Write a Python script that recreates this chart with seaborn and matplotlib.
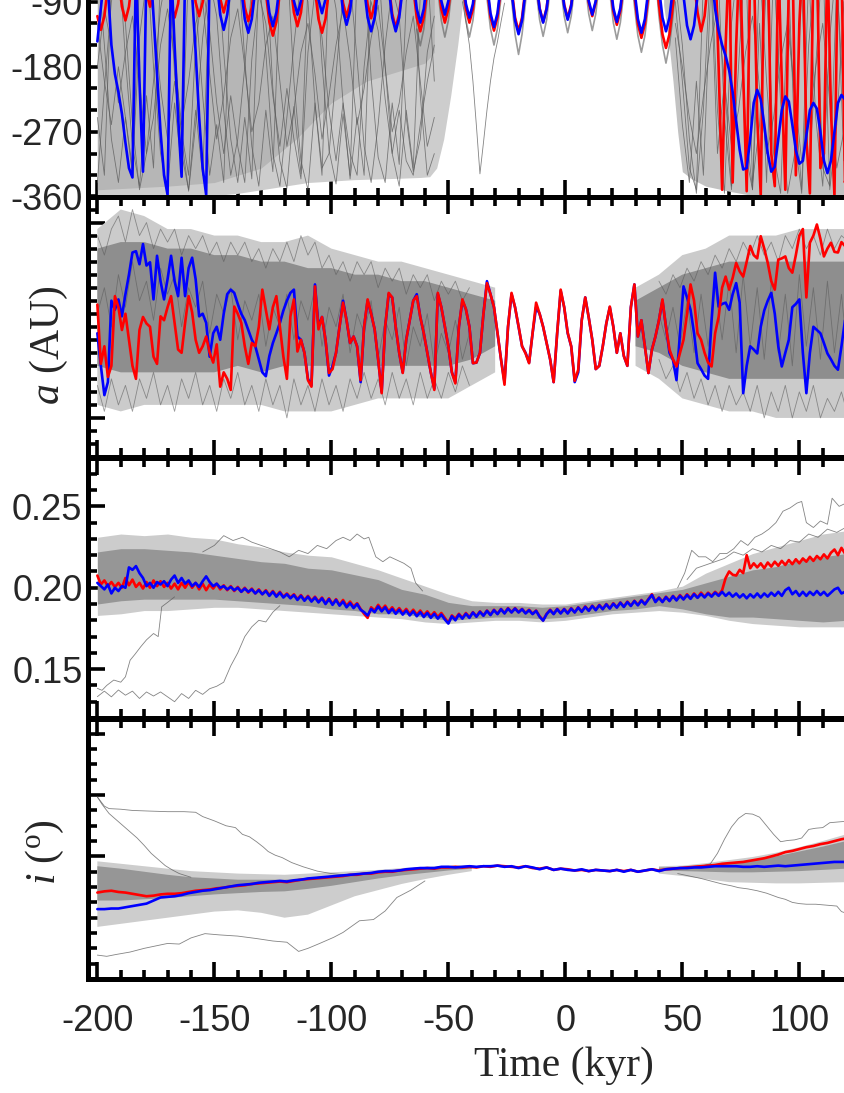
import numpy as np
import matplotlib
matplotlib.use('Agg')
import matplotlib.pyplot as plt
import seaborn as sns
from matplotlib.ticker import MultipleLocator, FormatStrFormatter, FuncFormatter

sns.set_theme(style='ticks')
plt.rcParams['font.family'] = ['Liberation Sans', 'DejaVu Sans']
plt.rcParams['axes.unicode_minus'] = False
plt.rcParams['mathtext.fontset'] = 'custom'
plt.rcParams['mathtext.rm'] = 'Liberation Serif'
plt.rcParams['mathtext.it'] = 'Liberation Serif:italic'

# time grids (kyr)
t_fine = np.arange(-200, 121.5, 1.5)     # 215 samples, one row = 10.5 kyr
t_coarse = np.arange(-200, 122, 3)       # 108 samples
t_env = np.arange(-200, 121, 10)         # 33 samples for the clone envelopes
nan = np.nan
GAP = [nan] * 26                         # t_coarse samples -38 .. 37, hidden under the orbits

# ---------------- panel 1: resonant angle (deg) ----------------
angle_red = [
    -110, -129, -110, -68, -32, -30, -56,
    -97, -116, -97, -56, -30, -28, -37,
    -78, -97, -78, -37, -20, -22, -52,
    -93, -112, -93, -52, -28, -28, -50,
    -91, -110, -91, -50, -28, -26, -45,
    -86, -105, -86, -45, -26, -30, -57,
    -98, -117, -98, -57, -32, -34, -77,
    -118, -137, -118, -77, -40, -36, -64,
    -105, -124, -105, -64, -34, -36, -73,
    -114, -133, -114, -73, -38, -32, -51,
    -92, -111, -92, -51, -28, -28, -53,
    -94, -113, -94, -53, -30, -32, -66,
    -107, -126, -107, -66, -36, -36, -71,
    -112, -131, -112, -71, -38, -34, -59,
    -100, -119, -100, -59, -32, -32, -59,
    -100, -119, -100, -59, -32, -34, -70,
    -111, -130, -111, -70, -38, -38, -71,
    -112, -131, -112, -71, -38, -34, -58,
    -99, -118, -99, -58, -32, -30, -53,
    -94, -113, -94, -53, -30, -28, -50,
    -91, -110, -91, -50, -28, -30, -62,
    -103, -122, -103, -62, -34, -38, -80,
    -121, -140, -121, -80, -42, -44, -94,
    -135, -154, -135, -94, -50, -40, -60,
    -40, -35, -62, -105, -131, -110, -60,
    -25, -20, -180, -350, -150, -20, -340,
    -150, -20, -190, -352, -40, -30, -250,
    -358, -20, -10, -300, -345, -30, -200,
    -350, -60, -5, -330, -120, -20, -280,
    -355, -40, -10, -320, -300, -25, -240,
    -358, -20, -30, -340, -90,
]
angle_blue = [
    -145, -100, -50, -70, -150, -190, -215,
    -245, -285, -320, -333, -40, -200, -325,
    -40, -30, -110, -190, -270, -330, -357,
    -40, -150, -250, -332, -50, -20, -80,
    -160, -250, -320, -357, -40, -30, -60,
    -108, -129, -108, -68, -34, -34, -73,
    -114, -133, -114, -73, -36, -34, -64,
    -105, -124, -105, -64, -34, -32, -48,
    -89, -108, -89, -48, -26, -26, -46,
    -87, -106, -87, -46, -26, -30, -62,
    -103, -122, -103, -62, -34, -36, -71,
    -112, -131, -112, -71, -38, -38, -71,
    -112, -131, -112, -71, -38, -34, -59,
    -100, -119, -100, -59, -32, -28, -48,
    -89, -108, -89, -48, -26, -28, -52,
    -93, -112, -93, -52, -30, -32, -65,
    -106, -125, -106, -65, -36, -38, -75,
    -116, -135, -116, -75, -40, -34, -59,
    -100, -119, -100, -59, -32, -30, -55,
    -96, -115, -96, -55, -30, -28, -48,
    -89, -108, -89, -48, -26, -30, -58,
    -99, -118, -99, -58, -32, -36, -73,
    -114, -133, -114, -73, -38, -38, -71,
    -112, -131, -112, -71, -38, -40, -82,
    -123, -142, -123, -82, -44, -30, -35,
    -50, -100, -130, -150, -165, -185, -215,
    -255, -295, -322, -320, -280, -230, -212,
    -225, -260, -300, -325, -318, -280, -240,
    -221, -228, -260, -295, -314, -310, -275,
    -240, -230, -238, -270, -310, -327, -310,
    -270, -230, -219, -225, -245,
]
# circulating clones, early part and late part
clone_t_early = np.arange(-200, -55, 3)
clone_early = [
    [-30, -150, -280, -340, -250, -330, -60, -20, -180, -300, -350, -230, -320, -40, -90, -220, -330,
     -260, -340, -50, -30, -170, -290, -345, -240, -325, -70, -25, -200, -310, -350, -230, -330,
     -45, -100, -230, -335, -250, -330, -60, -30, -180, -300, -345, -240, -320, -80, -40, -200],
    [-250, -330, -60, -20, -170, -290, -345, -220, -320, -50, -30, -190, -300, -350, -240, -330, -70,
     -25, -160, -280, -340, -250, -335, -55, -35, -210, -310, -348, -235, -328, -65, -20, -175,
     -295, -342, -245, -330, -50, -40, -195, -305, -340, -230, -315, -90, -30, -220, -330, -300],
    [-120, -200, -260, -180, -250, -320, -140, -60, -110, -210, -280, -200, -270, -330, -150, -70, -130,
     -230, -300, -220, -290, -340, -170, -80, -120, -220, -290, -210, -280, -335, -160, -75, -140,
     -240, -310, -230, -300, -330, -180, -90, -130, -225, -300, -240, -310, -330, -260, -200, -150],
    [-340, -210, -90, -40, -120, -260, -350, -300, -200, -100, -45, -150, -280, -352, -260, -140, -60,
     -110, -240, -330, -280, -180, -70, -50, -160, -300, -345, -250, -150, -60, -90, -230, -320,
     -300, -190, -80, -60, -170, -290, -340, -260, -150, -70, -110, -250, -325, -280, -160, -110],
    [-180, -100, -150, -230, -160, -110, -200, -300, -250, -150, -100, -170, -260, -200, -120, -90, -190,
     -280, -220, -140, -100, -180, -270, -230, -150, -110, -200, -290, -240, -160, -120, -190, -280,
     -220, -150, -100, -170, -260, -210, -140, -95, -180, -270, -230, -160, -110, -200, -290, -250],
]
clone_t_late = np.arange(47, 123, 3)
clone_late = [
    [-90, -200, -320, -350, -60, -20, -240, -355, -120, -30, -300, -350, -40, -200, -340, -80, -25,
     -280, -355, -150, -40, -320, -345, -60, -230, -350],
    [-140, -260, -340, -200, -330, -80, -30, -250, -350, -180, -20, -340, -260, -60, -300, -355, -100,
     -220, -350, -50, -250, -345, -140, -30, -310, -200],
    [-60, -150, -280, -355, -240, -40, -300, -200, -345, -70, -260, -350, -120, -340, -40, -230, -355,
     -300, -70, -330, -180, -20, -350, -260, -90, -330],
    [-120, -180, -250, -300, -220, -150, -100, -200, -290, -240, -160, -110, -210, -300, -250, -170, -120,
     -220, -310, -260, -180, -120, -230, -320, -270, -190],
]
# librating clones in the middle (slightly deeper dips than the red orbit)
clone_t_mid = np.arange(-63.5, 51, 1.5)
clone_mid = [
    -128, -151, -128, -85, -45, -40, -74,
    -116, -139, -116, -74, -42, -40, -74,
    -116, -139, -116, -74, -42, -44, -85,
    -127, -150, -127, -85, -46, -44, -86,
    -135, -163, -135, -90, -48, -40, -73,
    -115, -138, -115, -73, -40, -38, -68,
    -110, -133, -110, -68, -38, -36, -65,
    -107, -130, -107, -65, -36, -40, -77,
    -119, -142, -119, -77, -42, -46, -95,
    -137, -160, -137, -95, -50, -52, -110,
    -150, -175, -150, -110, -55, -40, -80,
]
clone_t_v = [-44, -42.5, -41, -39.5, -38, -36.5, -35, -33.5, -32, -30.5, -29, -27.5, -26]
clone_v = [-90, -118, -150, -200, -262, -328, -285, -240, -200, -168, -145, -118, -92]
# extent of the circulating cloud (whole cloud and its denser upper part)
cloud_t_early = [-200, -190, -180, -170, -160, -150, -140, -130, -120, -110, -100, -90, -80, -70, -62, -58,
                 -55, -52, -49, -46, -44]
cloud_lo_early = [-360, -360, -360, -360, -360, -358, -355, -350, -345, -340, -338, -336, -335, -334, -333, -332,
                  -320, -280, -220, -150, -95]
dense_t_early = [-200, -170, -150, -130, -115, -100, -85, -70, -60, -56]
dense_lo_early = [-350, -345, -340, -320, -280, -230, -200, -185, -175, -160]
cloud_t_late = [42, 44, 46, 48, 50, 54, 60, 70, 80, 90, 100, 110, 122]
cloud_lo_late = [-95, -140, -200, -270, -325, -335, -345, -352, -358, -360, -360, -360, -360]

# ---------------- panel 2: semi-major axis, offset from 1 AU in 1e-4 AU ----------------
a_red = [
    -2.6, -11.7, -9, -13.7, -12, -1.3, -3,
    -6.5, -4, -8, -12, -14, -6.5, -4.5,
    -5.5, -6, -10.6, -11.7, -4.4, -5, -3,
    -1.3, -5.4, -9.5, -10, -5.4, -1.3, -3.8,
    -8, -10, -9, -7.5, -10, -11.5, -8.7,
    -15.2, -13, -14, -15.7, -2.9, -4, -5.4,
    -9, -11.7, -8.5, -9, -6, -0.3, -3.4,
    -6.4, -3, -1.3, -6, -10.6, -14, -4.4,
    -1.8, -9.8, -8, -10, -14.2, -15.2, 0.2,
    -6.4, -4.5, -8, -13.1, -12.5, -10, -6,
    -2.3, -5, -8.5, -7.5, -9, -14.2, -6,
    -1.8, -4, -6.4, -11, -16.2, -6, -0.8,
    -1.5, -6, -10, -13.1, -8, -5, -2,
    -1.3, -4.5, -7, -10, -13, -15.7, -0.8,
    -3, -5.9, -9, -13, -14.7, -6, -1.8,
    -3.3, -6, -11.6, -11.5, -10, -4, 0.7,
    -1, -3, -6.9, -11, -14.9, -6, -0.8,
    -3, -5.9, -9, -10.1, -11.6, -7, -2.3,
    -4, -6, -8.5, -11, -14.5, -7, -0.3,
    -3, -6.9, -9, -14.3, -12.6, -5, -1.5,
    -4.6, -8, -12.5, -12, -9, -5.5, -2.9,
    -6, -10, -7, -10.5, -12, -3, 0.5,
    -7.5, -5, -9, -13.1, -9.5, -7.5, -5,
    -1.8, -6, -9.5, -11, -12.1, -10, -8,
    -4, 0.5, -2, -7, -8, -10, -11.5,
    -12.1, -7, -4.5, 0, 1.7, -0.3, 1.5,
    3.8, 2.5, 1.7, 4, 6.4, 5, 4.5,
    7.9, 6, 3.8, 1, -0.3, 4.3, 4.5,
    4.8, 3, 2.3, 5, 8, 9, -1.5,
    6.9, 8, 9.7, 7.5, 4.8, 6, 6.9,
    5.5, 5.4, 7, 6.4, 6,
]
a_blue = [
    -7, -12, -16.5, -14.5, -2, -3.4, -1.8,
    -4.4, -1, 2, 5.4, 5.6, 3.6, 6.7,
    3.4, 3.9, -1.8, 4.9, 1, -1.8, 1.3,
    4.9, 1, -1.3, 4.6, -1.3, 3, 4.6,
    1.3, -4.4, -4, -5.4, -10.6, -7, -6,
    -8, -4, -1, -0.3, -0.8, -2.5, -4,
    -5, -6.5, -8, -9, -11, -13, -13.6,
    -10.5, -8.5, -7, -5.4, -3.5, -2, -0.8,
    -0.3, -7.5, -8, -10, -14, -15, 0.5,
    -6, -4.5, -8, -13.5, -12, -10, -6,
    -2, -5, -8.5, -7.5, -9, -14.5, -6,
    -2, -4, -6.4, -11, -16, -6, -1,
    -1.5, -6, -10, -13, -8, -5, -2,
    -1, -4.5, -7, -10, -13, -15.5, -1,
    -3, -6, -9, -13, -14.5, -6, -2,
    -3.3, -6, -11.6, -11.5, -10, -4, 1,
    -1, -3, -7, -11, -14.5, -6, -1,
    -3, -6, -9, -10, -11.5, -7, -3,
    -4, -6, -8.5, -11, -14.5, -7, -0.5,
    -3, -7, -9, -14.5, -13, -5, -1.5,
    -4.6, -8, -12.5, -12, -9, -5.5, -3,
    -6, -10, -7, -10.5, -12, -3, 0.5,
    -7.5, -5, -9, -13.1, -9.5, -7.5, -5,
    -2, -6, -10, -11.1, -14.2, -7, 0.2,
    -1.5, -3.4, -7, -11.6, -12.5, -13.5, -14,
    -5, 2.3, -2.9, -2.5, -2.3, -3.4, -1,
    0.7, -2.3, -16.2, -12, -9, -9.5, -10.1,
    -6, -3.5, -2, -0.8, -4, -9, -12.1,
    -10, -8, -3, -2.5, -1.8, -10, -16.2,
    -10, -6, -6.5, -7, -8.5, -10.1, -11,
    -12, -12.6, -9, -5, -3.9,
]
a_out_top = [9, 12, 11, 9, 9, 8, 8, 7, 7, 8, 6, 5, 4, 4, 3, 2, 1,
             0, nan, nan, nan, nan, nan, 0, 2, 5, 6, 8, 8, 8, 9, 9, 9]
a_in_top = [6, 7, 7, 6, 6, 5, 5, 4, 4, 3, 3, 2, 2, 1, 1, 0, -1,
            -2, nan, nan, nan, nan, nan, -2, 0, 2, 3, 4, 4, 4, 4, 4, 4]
a_in_bot = [-12, -13, -13, -13, -13, -13, -12, -13, -12, -12, -12, -12, -12, -12, -12, -12, -11,
            -9, nan, nan, nan, nan, nan, -9, -10, -12, -13, -14, -14, -14, -14, -14, -14]
a_out_bot = [-18, -19, -18, -18, -18, -18, -18, -18, -19, -19, -19, -18, -17, -17, -17, -17, -15,
             -13, nan, nan, nan, nan, nan, -12, -14, -17, -18, -19, -19, -20, -20, -20, -20]
# ragged clones along the edges and the middle of the cloud (t_coarse grid)
a_edge_top = ([8, 5, 9, 11, 7, 12, 8, 10, 6, 9, 7, 9, 5, 8, 6, 8, 5, 7, 4, 7, 5, 7, 4, 6, 3, 6, 4,
               7, 4, 8, 5, 7, 3, 5, 2, 4, 1, 4, 2, 4, 0, 3, 1, 3, -1, 2, 0, 2, -2, 1, -1, 1, -2, 0]
              + GAP +
              [1, -1, 2, 0, 3, 1, 4, 2, 5, 3, 6, 4, 7, 5, 8, 5, 7, 4, 8, 6, 9, 6, 8, 5, 9, 6, 8, 7])
a_edge_bot = ([-15, -19, -14, -18, -15, -19, -14, -17, -13, -18, -15, -19, -14, -17, -13, -18, -15, -19,
               -14, -17, -13, -18, -15, -19, -14, -18, -15, -20, -14, -18, -15, -19, -14, -18, -15, -19,
               -14, -17, -13, -17, -14, -18, -13, -17, -14, -18, -13, -17, -14, -17, -13, -16, -12, -15]
              + GAP +
              [-11, -14, -12, -16, -13, -17, -14, -18, -15, -19, -15, -18, -16, -19, -15, -20, -16, -19,
               -15, -20, -16, -19, -15, -20, -17, -19, -16, -20])
a_edge_mid = ([-4, 0, -6, 2, -3, 4, -2, 1, -5, 3, -1, 2, -6, 0, -3, 1, -7, -1, -4, 0, -8, -2, -5, -1,
               -9, -3, -6, -1, -8, -2, -5, 0, -9, -3, -6, -1, -10, -4, -7, -2, -11, -5, -8, -3, -12, -6,
               -9, -4, -12, -7, -10, -5, -11, -7]
              + GAP +
              [-4, -8, -3, -9, -2, -10, -1, -9, 0, -8, 1, -10, 2, -9, 0, -11, 1, -10, -1, -12, 2, -9,
               0, -11, 1, -10, -1, -12])

# ---------------- panel 3: eccentricity ----------------
e_red = [
    0.2075, 0.2020, 0.2045, 0.2010, 0.2035, 0.2005, 0.2030,
    0.2000, 0.2060, 0.2015, 0.2050, 0.2005, 0.2030, 0.1995,
    0.2035, 0.2000, 0.2045, 0.2010, 0.2040, 0.2005, 0.2030,
    0.1995, 0.2025, 0.1990, 0.2030, 0.2000, 0.2035, 0.2000,
    0.2030, 0.1990, 0.2025, 0.1985, 0.2020, 0.1995, 0.2025,
    0.1990, 0.2015, 0.1985, 0.2010, 0.1980, 0.2005, 0.1975,
    0.2000, 0.1970, 0.1995, 0.1965, 0.1990, 0.1960, 0.1985,
    0.1955, 0.1980, 0.1950, 0.1975, 0.1945, 0.1965, 0.1940,
    0.1960, 0.1930, 0.1955, 0.1925, 0.1950, 0.1920, 0.1945,
    0.1915, 0.1940, 0.1905, 0.1935, 0.1900, 0.1930, 0.1895,
    0.1925, 0.1890, 0.1915, 0.1885, 0.1905, 0.1870, 0.1840,
    0.1815, 0.1880, 0.1860, 0.1895, 0.1865, 0.1890, 0.1855,
    0.1880, 0.1850, 0.1875, 0.1845, 0.1870, 0.1840, 0.1865,
    0.1835, 0.1860, 0.1830, 0.1855, 0.1825, 0.1850, 0.1820,
    0.1845, 0.1815, 0.1785, 0.1830, 0.1810, 0.1840, 0.1815,
    0.1845, 0.1820, 0.1850, 0.1825, 0.1855, 0.1830, 0.1860,
    0.1835, 0.1865, 0.1840, 0.1870, 0.1845, 0.1875, 0.1850,
    0.1875, 0.1850, 0.1870, 0.1845, 0.1865, 0.1840, 0.1860,
    0.1825, 0.1800, 0.1840, 0.1865, 0.1840, 0.1870, 0.1845,
    0.1870, 0.1845, 0.1875, 0.1850, 0.1880, 0.1855, 0.1885,
    0.1860, 0.1890, 0.1865, 0.1895, 0.1870, 0.1900, 0.1875,
    0.1905, 0.1880, 0.1910, 0.1885, 0.1915, 0.1890, 0.1920,
    0.1895, 0.1925, 0.1900, 0.1930, 0.1960, 0.1915, 0.1940,
    0.1915, 0.1945, 0.1920, 0.1950, 0.1925, 0.1955, 0.1930,
    0.1960, 0.1935, 0.1965, 0.1940, 0.1970, 0.1945, 0.1970,
    0.1950, 0.1975, 0.1955, 0.1985, 0.2060, 0.2100, 0.2080,
    0.2075, 0.2110, 0.2090, 0.2200, 0.2120, 0.2150, 0.2125,
    0.2150, 0.2120, 0.2155, 0.2130, 0.2160, 0.2135, 0.2165,
    0.2140, 0.2170, 0.2145, 0.2175, 0.2150, 0.2180, 0.2160,
    0.2190, 0.2165, 0.2195, 0.2175, 0.2205, 0.2180, 0.2215,
    0.2235, 0.2200, 0.2245, 0.2210, 0.2230,
]
e_blue = [
    0.2030, 0.2010, 0.1990, 0.2020, 0.1965, 0.2000, 0.1980,
    0.2010, 0.2000, 0.2125, 0.2110, 0.2133, 0.2090, 0.2060,
    0.2010, 0.2030, 0.2000, 0.2035, 0.2020, 0.2040, 0.2010,
    0.2050, 0.2075, 0.2030, 0.2060, 0.2025, 0.2045, 0.2010,
    0.2030, 0.2005, 0.2040, 0.2070, 0.2035, 0.2010, 0.2025,
    0.2000, 0.2010, 0.1990, 0.2005, 0.1985, 0.2000, 0.1975,
    0.1995, 0.1975, 0.1990, 0.1965, 0.1985, 0.1960, 0.1980,
    0.1950, 0.1975, 0.1945, 0.1970, 0.1940, 0.1960, 0.1935,
    0.1955, 0.1925, 0.1950, 0.1920, 0.1945, 0.1915, 0.1940,
    0.1910, 0.1935, 0.1900, 0.1930, 0.1895, 0.1925, 0.1890,
    0.1915, 0.1880, 0.1905, 0.1875, 0.1900, 0.1865, 0.1850,
    0.1830, 0.1870, 0.1850, 0.1885, 0.1855, 0.1880, 0.1845,
    0.1870, 0.1840, 0.1865, 0.1835, 0.1860, 0.1830, 0.1855,
    0.1825, 0.1850, 0.1820, 0.1845, 0.1815, 0.1840, 0.1810,
    0.1835, 0.1805, 0.1780, 0.1825, 0.1800, 0.1835, 0.1810,
    0.1840, 0.1815, 0.1848, 0.1822, 0.1852, 0.1828, 0.1858,
    0.1832, 0.1862, 0.1838, 0.1868, 0.1842, 0.1872, 0.1848,
    0.1872, 0.1848, 0.1868, 0.1842, 0.1862, 0.1838, 0.1858,
    0.1822, 0.1798, 0.1838, 0.1862, 0.1838, 0.1868, 0.1842,
    0.1868, 0.1842, 0.1872, 0.1848, 0.1878, 0.1852, 0.1882,
    0.1858, 0.1888, 0.1862, 0.1892, 0.1868, 0.1898, 0.1872,
    0.1902, 0.1878, 0.1908, 0.1882, 0.1912, 0.1888, 0.1918,
    0.1892, 0.1922, 0.1898, 0.1928, 0.1955, 0.1912, 0.1938,
    0.1912, 0.1942, 0.1918, 0.1948, 0.1922, 0.1950, 0.1928,
    0.1955, 0.1932, 0.1960, 0.1938, 0.1962, 0.1940, 0.1965,
    0.1945, 0.1970, 0.1950, 0.1975, 0.1950, 0.1970, 0.1945,
    0.1965, 0.1940, 0.1960, 0.1935, 0.1960, 0.1940, 0.1965,
    0.1940, 0.1965, 0.1945, 0.1970, 0.1950, 0.1975, 0.1950,
    0.1985, 0.2000, 0.1960, 0.1980, 0.1950, 0.1975, 0.1950,
    0.1975, 0.1955, 0.1980, 0.1955, 0.1975, 0.1950, 0.1970,
    0.1990, 0.2000, 0.1965, 0.1975, 0.1955,
]
e_out_top = [0.231, 0.233, 0.232, 0.233, 0.231, 0.230, 0.227, 0.225, 0.222, 0.220, 0.219, 0.215, 0.211,
             0.206, 0.201, 0.196, 0.192, 0.191, 0.191, 0.190, 0.190, 0.192, 0.194, 0.196, 0.198, 0.201,
             0.209, 0.215, 0.221, 0.225, 0.229, 0.233, 0.235]
e_in_top = [0.222, 0.224, 0.224, 0.223, 0.222, 0.220, 0.218, 0.216, 0.215, 0.212, 0.211, 0.208, 0.205,
            0.199, 0.196, 0.191, 0.189, 0.189, 0.189, 0.188, 0.189, 0.191, 0.193, 0.195, 0.197, 0.199,
            0.203, 0.207, 0.211, 0.213, 0.217, 0.219, 0.221]
e_in_bot = [0.190, 0.192, 0.193, 0.193, 0.193, 0.193, 0.192, 0.191, 0.190, 0.189, 0.187, 0.186, 0.184,
            0.184, 0.182, 0.180, 0.181, 0.182, 0.182, 0.181, 0.182, 0.184, 0.186, 0.187, 0.189, 0.187,
            0.184, 0.182, 0.182, 0.181, 0.180, 0.179, 0.180]
e_out_bot = [0.183, 0.184, 0.186, 0.186, 0.187, 0.188, 0.188, 0.187, 0.186, 0.185, 0.184, 0.183, 0.182,
             0.181, 0.179, 0.178, 0.179, 0.180, 0.180, 0.179, 0.180, 0.182, 0.184, 0.185, 0.186, 0.185,
             0.183, 0.180, 0.178, 0.177, 0.176, 0.176, 0.176]
# stray clones
e_stray = {
    'low_a': ([-200, -198, -196, -193, -190, -188, -186, -184, -181.5, -179, -176, -174, -172.5, -170, -167],
              [0.1382, 0.1370, 0.1400, 0.1433, 0.1420, 0.1453, 0.1555, 0.1590, 0.1637, 0.1680, 0.1719, 0.1700,
               0.1883, 0.1910, 0.1944]),
    'low_b': ([-200, -197, -194, -191, -188, -185, -182, -179, -176, -173, -170, -167, -164, -161, -158, -155,
               -152, -149, -146, -143, -140, -137, -134, -131, -128, -125, -122],
              [0.1331, 0.1365, 0.1330, 0.1372, 0.1340, 0.1365, 0.1320, 0.1360, 0.1335, 0.1360, 0.1330, 0.1300,
               0.1350, 0.1320, 0.1370, 0.1345, 0.1380, 0.1395, 0.1420, 0.1520, 0.1600, 0.1700, 0.1760, 0.1800,
               0.1790, 0.1850, 0.1890]),
    'high_left': ([-155, -150, -146, -142, -138, -134, -130, -126, -122, -118, -114, -110, -106, -102, -98, -95,
                   -92, -89, -86, -84, -81, -78, -75, -72, -69, -66, -64, -61],
                  [0.222, 0.226, 0.232, 0.229, 0.231, 0.228, 0.226, 0.224, 0.222, 0.219, 0.223, 0.221, 0.226,
                   0.224, 0.229, 0.231, 0.229, 0.233, 0.230, 0.231, 0.219, 0.216, 0.219, 0.217, 0.215, 0.212,
                   0.203, 0.198]),
    'high_right': ([48, 51, 54, 57, 60, 63, 66, 69, 72, 75, 78, 81, 84, 87, 90, 93, 96, 99, 101, 103, 106, 109,
                    112, 114, 117, 120, 121],
                   [0.200, 0.209, 0.223, 0.219, 0.219, 0.216, 0.221, 0.221, 0.224, 0.229, 0.226, 0.231, 0.233,
                    0.236, 0.240, 0.247, 0.249, 0.252, 0.253, 0.240, 0.237, 0.241, 0.239, 0.255, 0.250, 0.252,
                    0.251]),
    'mid_right': ([52, 56, 60, 64, 68, 72, 76, 80, 84, 88, 92, 96, 100, 104, 108, 112, 116, 121],
                  [0.205, 0.212, 0.214, 0.216, 0.218, 0.222, 0.220, 0.224, 0.222, 0.226, 0.224, 0.229, 0.228,
                   0.233, 0.231, 0.236, 0.234, 0.238]),
}

# ---------------- panel 4: inclination (deg) ----------------
i_red = [
    5.41, 5.43, 5.44, 5.42, 5.41, 5.39, 5.37, 5.35, 5.36,
    5.38, 5.39, 5.39, 5.40, 5.42, 5.44, 5.45, 5.46, 5.48,
    5.49, 5.51, 5.52, 5.53, 5.55, 5.56, 5.57, 5.58, 5.59,
    5.58, 5.60, 5.62, 5.63, 5.64, 5.65, 5.66, 5.67, 5.68,
    5.70, 5.70, 5.72, 5.72, 5.74, 5.75, 5.75, 5.77, 5.78,
    5.79, 5.80, 5.81, 5.80, 5.82, 5.82, 5.83, 5.82, 5.83,
    5.82, 5.84, 5.83, 5.85, 5.84, 5.83, 5.82, 5.84, 5.81,
    5.80, 5.82, 5.78, 5.80, 5.79, 5.77, 5.78, 5.76, 5.78,
    5.77, 5.76, 5.78, 5.76, 5.78, 5.75, 5.77, 5.79, 5.77,
    5.79, 5.80, 5.81, 5.82, 5.83, 5.84, 5.85, 5.86, 5.88,
    5.89, 5.90, 5.91, 5.93, 5.95, 5.97, 6.00, 6.03, 6.07,
    6.09, 6.12, 6.15, 6.17, 6.20, 6.22, 6.25, 6.28, 6.30,
]
i_blue = [
    5.14, 5.14, 5.15, 5.15, 5.17, 5.19, 5.21, 5.23, 5.28,
    5.33, 5.34, 5.35, 5.37, 5.40, 5.42, 5.44, 5.45, 5.47,
    5.49, 5.51, 5.53, 5.54, 5.55, 5.57, 5.58, 5.59, 5.60,
    5.59, 5.61, 5.62, 5.64, 5.65, 5.66, 5.67, 5.68, 5.69,
    5.70, 5.71, 5.72, 5.73, 5.75, 5.76, 5.76, 5.77, 5.79,
    5.80, 5.81, 5.81, 5.81, 5.83, 5.83, 5.82, 5.83, 5.84,
    5.83, 5.84, 5.84, 5.85, 5.83, 5.84, 5.81, 5.84, 5.82,
    5.79, 5.82, 5.78, 5.80, 5.78, 5.77, 5.79, 5.76, 5.78,
    5.77, 5.76, 5.78, 5.75, 5.78, 5.75, 5.77, 5.79, 5.76,
    5.79, 5.80, 5.81, 5.81, 5.82, 5.82, 5.83, 5.84, 5.84,
    5.84, 5.84, 5.83, 5.83, 5.84, 5.83, 5.84, 5.85, 5.84,
    5.85, 5.86, 5.87, 5.88, 5.89, 5.90, 5.91, 5.91, 5.91,
]
i_out_top = [5.92, 5.88, 5.84, 5.80, 5.76, 5.74, 5.72, 5.71, 5.70, 5.72, 5.74, 5.76, 5.78, 5.81, 5.83, 5.85,
             5.86, nan, nan, nan, nan, nan, nan, nan, 5.84, 5.85, 5.89, 5.94, 5.99, 6.06, 6.15, 6.25, 6.36]
i_in_top = [5.84, 5.80, 5.75, 5.70, 5.66, 5.64, 5.62, 5.62, 5.62, 5.65, 5.68, 5.71, 5.74, 5.77, 5.80, 5.82,
            5.84, nan, nan, nan, nan, nan, nan, nan, 5.82, 5.83, 5.86, 5.90, 5.94, 6.00, 6.08, 6.16, 6.25]
i_in_bot = [5.28, 5.28, 5.30, 5.32, 5.35, 5.38, 5.40, 5.42, 5.43, 5.47, 5.52, 5.58, 5.64, 5.69, 5.73, 5.77,
            5.80, nan, nan, nan, nan, nan, nan, nan, 5.77, 5.76, 5.75, 5.74, 5.74, 5.75, 5.76, 5.78, 5.80]
i_out_bot = [4.85, 4.90, 4.95, 5.00, 5.05, 5.10, 5.12, 5.08, 5.00, 5.05, 5.20, 5.35, 5.45, 5.55, 5.63, 5.70,
             5.76, nan, nan, nan, nan, nan, nan, nan, 5.72, 5.68, 5.63, 5.58, 5.57, 5.56, 5.56, 5.57, 5.58]
i_stray = {
    'top_flat': ([-200, -197, -195, -190, -185, -178, -170, -163, -158, -155, -150, -145, -141, -138, -135, -132,
                  -129, -127, -124, -121, -117, -112, -106, -100, -95],
                 [6.97, 6.82, 6.78, 6.77, 6.75, 6.74, 6.73, 6.73, 6.72, 6.65, 6.58, 6.50, 6.47, 6.36, 6.32, 6.24,
                  6.15, 6.08, 6.02, 5.98, 5.90, 5.83, 5.76, 5.72, 5.70]),
    'top_drop': ([-200, -198, -195, -192, -189, -186, -183, -180, -177, -174, -171, -168, -165, -160],
                 [6.97, 6.85, 6.70, 6.60, 6.50, 6.40, 6.30, 6.18, 6.05, 5.95, 5.85, 5.78, 5.72, 5.66]),
    'bottom': ([-200, -196, -192, -186, -180, -175, -170, -165, -160, -154, -148, -140, -132, -125, -119, -114,
                -110, -105, -99, -95, -88, -82, -77, -72, -66, -60],
               [4.39, 4.37, 4.40, 4.44, 4.50, 4.54, 4.58, 4.57, 4.67, 4.74, 4.72, 4.70, 4.66, 4.62, 4.60, 4.45,
                4.50, 4.58, 4.68, 4.76, 4.95, 4.97, 5.11, 5.33, 5.45, 5.60]),
    'peak': ([58, 62, 65, 68, 71, 74, 77, 80, 83, 86, 89, 92, 95, 98, 101, 104, 107, 110, 113, 116, 119, 121],
             [5.84, 5.88, 6.05, 6.28, 6.48, 6.62, 6.70, 6.69, 6.64, 6.50, 6.36, 6.24, 6.26, 6.27, 6.30, 6.44,
              6.46, 6.47, 6.55, 6.56, 6.57, 6.57]),
    'low_right': ([48, 53, 58, 62, 67, 71, 74, 78, 82, 86, 91, 94, 97, 100, 103, 107, 110, 113, 116, 118, 121],
                  [5.72, 5.68, 5.64, 5.60, 5.55, 5.52, 5.49, 5.47, 5.44, 5.40, 5.33, 5.30, 5.25, 5.23, 5.22, 5.22,
                   5.21, 5.20, 5.19, 5.10, 5.06]),
}

RED, BLUE = '#ff0000', '#0000ff'
CLONE = '#5a5a5a'


def orbit(ax, t, y, color, z):
    sns.lineplot(x=t, y=y, ax=ax, color=color, linewidth=1.9, estimator=None, sort=False,
                 legend=False, zorder=z)


def clone(ax, t, y, lw=0.6, alpha=0.75):
    ax.plot(t, y, color=CLONE, linewidth=lw, alpha=alpha, zorder=2)


def band(ax, lo_out, hi_out, lo_in, hi_in, c_out, c_in):
    ax.fill_between(t_env, lo_out, hi_out, color=c_out, linewidth=0, zorder=1)
    ax.fill_between(t_env, lo_in, hi_in, color=c_in, linewidth=0, zorder=1.5)


def style(ax, ylim, major, minor):
    ax.set_xlim(-204, 204)
    ax.set_ylim(*ylim)
    ax.xaxis.set_major_locator(MultipleLocator(50))
    ax.xaxis.set_minor_locator(MultipleLocator(10))
    ax.yaxis.set_major_locator(MultipleLocator(major))
    ax.yaxis.set_minor_locator(MultipleLocator(minor))
    ax.tick_params(which='both', direction='in', top=True, right=True, width=2.6, color='black')
    ax.tick_params(which='major', length=12)
    ax.tick_params(which='minor', length=6.5)
    ax.tick_params(axis='x', labelbottom=False, pad=18, labelsize=26)
    ax.tick_params(axis='y', pad=4, labelsize=26)
    for s in ax.spines.values():
        s.set_linewidth(3.6)
        s.set_color('black')
    ax.set_xlabel('')
    ax.set_ylabel('')


W, H = 845, 1093
fig = plt.figure(figsize=(W / 100, H / 100), dpi=100)
left, width = 88 / W, 954.7 / W
bottoms = [197, 457, 718, 979]
axes = [fig.add_axes([left, (H - b) / H, width, 260.5 / H]) for b in bottoms]
ax1, ax2, ax3, ax4 = axes

# panel 1
ax1.fill_between(cloud_t_early, cloud_lo_early, 0, color='#cdcdcd', linewidth=0, zorder=1)
ax1.fill_between(dense_t_early, dense_lo_early, 0, color='#b6b6b6', linewidth=0, zorder=1.2)
ax1.fill_between(cloud_t_late, cloud_lo_late, 0, color='#c2c2c2', linewidth=0, zorder=1)
for c in clone_early:
    clone(ax1, clone_t_early, c)
for c in clone_late:
    clone(ax1, clone_t_late, c)
clone(ax1, clone_t_mid, clone_mid, lw=1.2, alpha=0.6)
clone(ax1, clone_t_v, clone_v)
orbit(ax1, t_fine, angle_red, RED, 3)
orbit(ax1, t_fine, angle_blue, BLUE, 4)
style(ax1, (-360, 0), 90, 30)
ax1.yaxis.set_major_formatter(FuncFormatter(lambda v, p: '' if v > -45 else f'{v:.0f}'))

# panel 2
a_off = 1e-4
band(ax2, 1 + a_off * np.array(a_out_bot), 1 + a_off * np.array(a_out_top),
     1 + a_off * np.array(a_in_bot), 1 + a_off * np.array(a_in_top), '#cbcbcb', '#8e8e8e')
for edge in (a_edge_top, a_edge_bot, a_edge_mid):
    clone(ax2, t_coarse, 1 + a_off * np.array(edge), lw=0.6, alpha=0.6)
orbit(ax2, t_fine, 1 + a_off * np.array(a_blue), BLUE, 3)
orbit(ax2, t_fine, 1 + a_off * np.array(a_red), RED, 4)
style(ax2, (0.9974, 1.0014), 0.001, 0.0002)
ax2.tick_params(axis='y', labelleft=False)

# panel 3
band(ax3, e_out_bot, e_out_top, e_in_bot, e_in_top, '#cccccc', '#969696')
for tt, vv in e_stray.values():
    clone(ax3, tt, vv)
orbit(ax3, t_fine, e_red, RED, 3)
orbit(ax3, t_fine, e_blue, BLUE, 4)
style(ax3, (0.12, 0.28), 0.05, 0.01)
ax3.yaxis.set_major_formatter(FormatStrFormatter('%.2f'))

# panel 4
band(ax4, i_out_bot, i_out_top, i_in_bot, i_in_top, '#cdcdcd', '#969696')
for tt, vv in i_stray.values():
    clone(ax4, tt, vv)
orbit(ax4, t_coarse, i_red, RED, 3)
orbit(ax4, t_coarse, i_blue, BLUE, 4)
style(ax4, (4, 8.25), 1, 0.25)
ax4.tick_params(axis='y', labelleft=False)
ax4.tick_params(axis='x', labelbottom=True)
ax4.xaxis.set_major_formatter(FuncFormatter(lambda v, p: f'{v:.0f}' if v <= 110 else ''))

serif = ['Liberation Serif', 'DejaVu Serif']
fig.text(49 / W, 1 - 345 / H, r'$a$ (AU)', rotation=90, ha='center', va='center', fontsize=30, family=serif)
fig.text(45 / W, 1 - 852 / H, r'$i$ ($^{\mathrm{o}}$)', rotation=90, ha='center', va='center', fontsize=30,
         family=serif)
fig.text(564 / W, 1 - 1066 / H, 'Time (kyr)', ha='center', va='center', fontsize=30, family=serif)

fig.savefig('out.png', dpi=100)
